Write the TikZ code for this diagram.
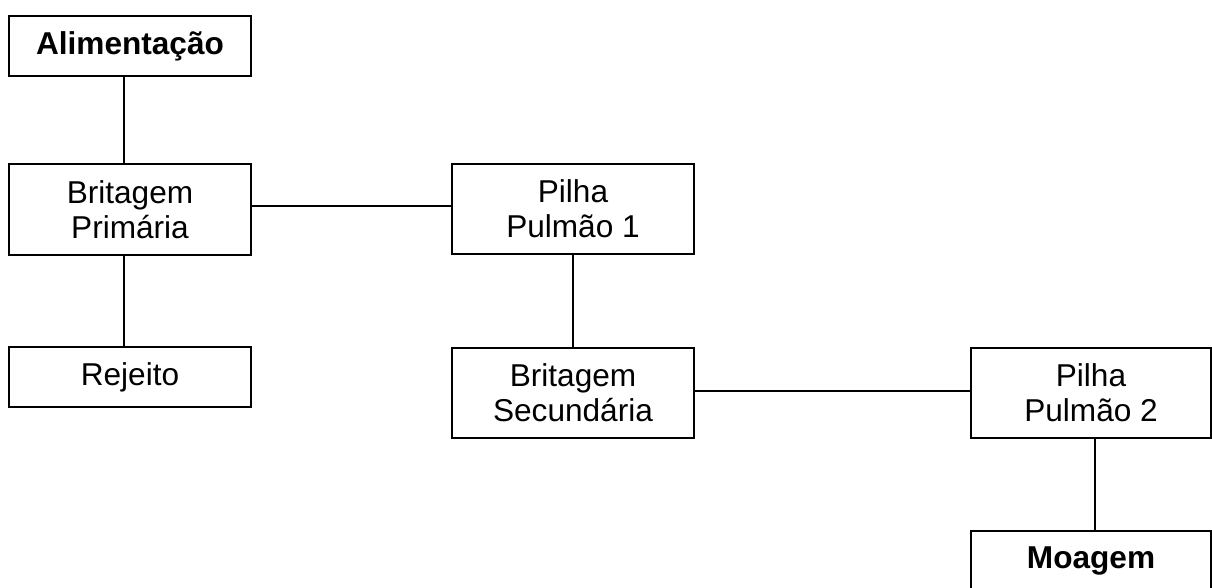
\documentclass[tikz,border=0pt]{standalone}
\usepackage{fontspec}
\setmainfont{Liberation Sans}
\begin{document}
\begin{tikzpicture}[x=0.75pt,y=-0.75pt,
  box/.style={draw=black,line width=1.4pt,rectangle,inner sep=0pt,align=center,
    minimum width=181.5pt,font=\fontsize{23.7}{26.5}\selectfont},
  tall/.style={box,minimum height=68pt},
  short/.style={box,minimum height=45pt},
  conn/.style={draw=black,line width=1.4pt}]
\useasboundingbox (0,0) rectangle (1212,588);
\node[short,font=\fontsize{23.7}{26.5}\selectfont\bfseries] (ali) at (130,46) {Alimentação};
\node[tall] (bp) at (130,209.5) {Britagem\\Primária};
\node[short] (rej) at (130,377) {Rejeito};
\node[tall] (pp1) at (573,209) {Pilha\\Pulmão 1};
\node[tall] (bs) at (573,393) {Britagem\\Secundária};
\node[tall,minimum width=180pt] (pp2) at (1091,393) {Pilha\\Pulmão 2};
\node[short,minimum width=180pt,font=\fontsize{23.7}{26.5}\selectfont\bfseries] (moa) at (1091,561) {Moagem};
\draw[conn] ([xshift=-4.5pt]ali.south) -- ([xshift=-4.5pt]bp.north);
\draw[conn] ([xshift=-4.5pt]bp.south) -- ([xshift=-4.5pt]rej.north);
\draw[conn] ([yshift=2.4pt]bp.east) -- ([yshift=2.4pt]bp.east -| pp1.west);
\draw[conn] (pp1.south) -- (bs.north);
\draw[conn] ([yshift=1.5pt]bs.east) -- ([yshift=1.5pt]bs.east -| pp2.west);
\draw[conn] ([xshift=3pt]pp2.south) -- ([xshift=3pt]moa.north);
\end{tikzpicture}
\end{document}
